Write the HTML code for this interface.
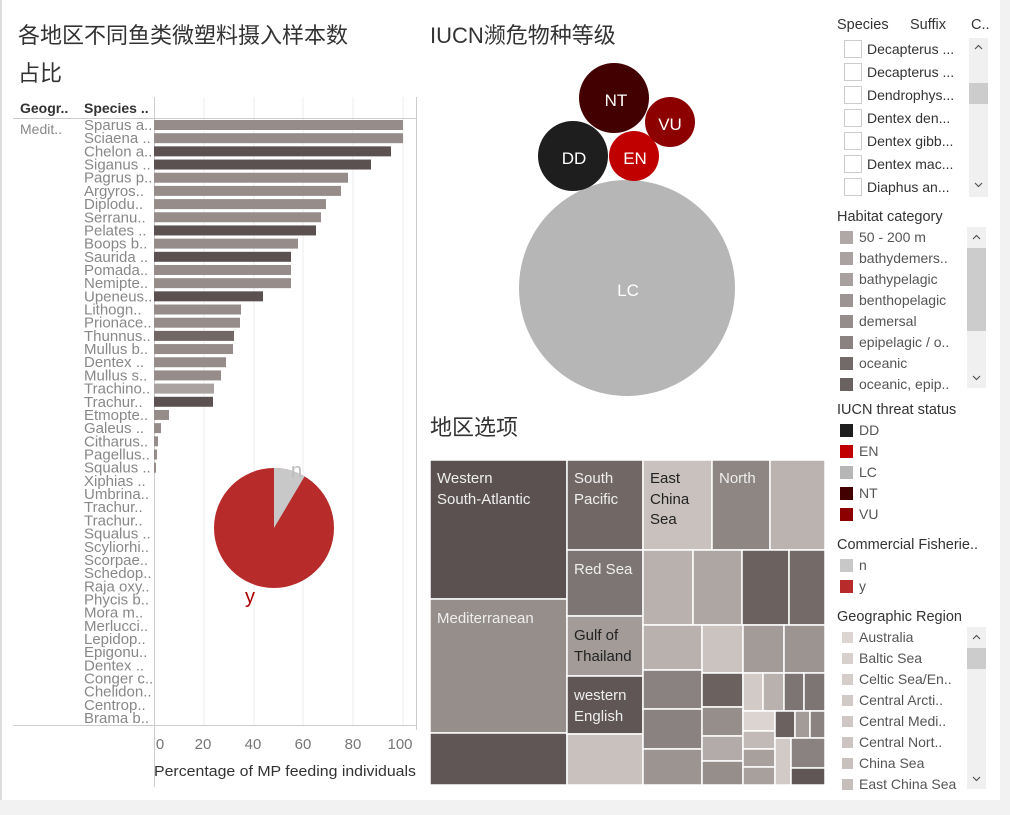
<!DOCTYPE html>
<html><head><meta charset="utf-8"><style>
body{margin:0;width:1010px;height:815px;background:#f2f2f2;overflow:hidden;font-family:"Liberation Sans","Noto Sans CJK SC",sans-serif}
#p{position:absolute;left:0;top:0;width:1000px;height:800px;background:#fff;border-left:2px solid #ddd;box-sizing:border-box}
</style></head><body><div id="p"></div>
<svg width="1010" height="815" style="position:absolute;left:0;top:0" font-family="Liberation Sans, Noto Sans CJK SC, sans-serif">
<g font-family="Liberation Sans, Noto Sans CJK SC, sans-serif" fill="#333" font-size="22">
<text x="18" y="43">各地区不同鱼类微塑料摄入样本数</text>
<text x="18" y="81">占比</text>
<text x="430" y="43">IUCN濒危物种等级</text>
<text x="430" y="435">地区选项</text>
</g>
<g stroke="#eee" stroke-width="1">
<line x1="204" y1="97" x2="204" y2="725"/><line x1="254" y1="97" x2="254" y2="725"/><line x1="303" y1="97" x2="303" y2="725"/><line x1="353" y1="97" x2="353" y2="725"/><line x1="403" y1="97" x2="403" y2="725"/>
</g>
<g stroke="#ccc" stroke-width="1">
<line x1="154.5" y1="97" x2="154.5" y2="787"/>
<line x1="416.5" y1="97" x2="416.5" y2="730"/>
<line x1="13" y1="118.5" x2="416" y2="118.5"/>
<line x1="13" y1="725.5" x2="416" y2="725.5"/>
</g>
<text x="20" y="113" font-size="14" font-weight="bold" fill="#333">Geogr..</text>
<text x="84" y="113" font-size="14" font-weight="bold" fill="#333">Species ..</text>
<text x="20" y="134" font-size="14" fill="#888">Medit..</text>
<g id="bars"></g>
<g font-size="15" fill="#777" text-anchor="middle">
<text x="160" y="749">0</text><text x="203" y="749">20</text><text x="253" y="749">40</text><text x="303" y="749">60</text><text x="353" y="749">80</text><text x="400" y="749">100</text>
</g>
<text x="154" y="776" font-size="15" fill="#333" textLength="262" lengthAdjust="spacingAndGlyphs">Percentage of MP feeding individuals</text>
<circle cx="274" cy="528" r="60" fill="#b82b2b"/>
<path d="M274 528 L274 468 A60 60 0 0 1 304.6 476.4 Z" fill="#c8c8c8"/>
<text x="291" y="477" font-size="20" fill="#bbb">n</text>
<text x="245" y="603" font-size="20" fill="#a00">y</text>
<circle cx="627" cy="288" r="108" fill="#b6b6b6"/>
<circle cx="614" cy="98" r="35" fill="#420000"/>
<circle cx="670" cy="122" r="25" fill="#8c0000"/>
<circle cx="573" cy="156" r="35" fill="#1e1e1e"/>
<circle cx="634" cy="156" r="25" fill="#c00000"/>
<g fill="#fff" font-size="17" text-anchor="middle">
<text x="616" y="106">NT</text><text x="670" y="130">VU</text><text x="574" y="164">DD</text><text x="635" y="164">EN</text><text x="628" y="296">LC</text>
</g>
<g stroke="#fff" stroke-width="1.5">
<rect x="430" y="460" width="137" height="139" fill="#5a5150"/>
<rect x="430" y="599" width="137" height="134" fill="#958e8b"/>
<rect x="430" y="733" width="137" height="52" fill="#5f5655"/>
<rect x="567" y="460" width="76" height="90" fill="#716866"/>
<rect x="567" y="550" width="76" height="66" fill="#7d7573"/>
<rect x="567" y="616" width="76" height="60" fill="#a29b98"/>
<rect x="567" y="676" width="76" height="58" fill="#5f5655"/>
<rect x="567" y="734" width="76" height="51" fill="#c9c1bd"/>
<rect x="643" y="460" width="69" height="90" fill="#c9c1bd"/>
<rect x="712" y="460" width="58" height="90" fill="#8e8683"/>
<rect x="770" y="460" width="55" height="90" fill="#bbb3b0"/>
<rect x="643" y="550" width="50" height="75" fill="#b9b1ae"/>
<rect x="693" y="550" width="49" height="75" fill="#aea6a3"/>
<rect x="742" y="550" width="47" height="75" fill="#6b6260"/>
<rect x="789" y="550" width="36" height="75" fill="#746b69"/>
<rect x="643" y="625" width="59" height="45" fill="#b9b1ae"/>
<rect x="702" y="625" width="41" height="48" fill="#cbc3bf"/>
<rect x="743" y="625" width="41" height="48" fill="#a39b98"/>
<rect x="784" y="625" width="41" height="48" fill="#9c9491"/>
<rect x="643" y="670" width="59" height="39" fill="#8a8280"/>
<rect x="643" y="709" width="59" height="40" fill="#8a8280"/>
<rect x="643" y="749" width="59" height="36" fill="#9c9491"/>
<rect x="702" y="673" width="41" height="34" fill="#6b6260"/>
<rect x="702" y="707" width="41" height="29" fill="#958e8b"/>
<rect x="702" y="736" width="41" height="25" fill="#b3abaa"/>
<rect x="702" y="761" width="41" height="24" fill="#958e8b"/>
<rect x="743" y="673" width="20" height="38" fill="#d2cac6"/>
<rect x="763" y="673" width="21" height="38" fill="#b9b1ae"/>
<rect x="784" y="673" width="20" height="38" fill="#7d7573"/>
<rect x="804" y="673" width="21" height="38" fill="#7d7573"/>
<rect x="743" y="711" width="32" height="20" fill="#dcd4d0"/>
<rect x="743" y="731" width="32" height="18" fill="#c2bab6"/>
<rect x="743" y="749" width="32" height="18" fill="#a8a09d"/>
<rect x="743" y="767" width="32" height="18" fill="#a8a09d"/>
<rect x="775" y="711" width="20" height="27" fill="#6b6260"/>
<rect x="795" y="711" width="15" height="27" fill="#a39b98"/>
<rect x="810" y="711" width="15" height="27" fill="#8a8280"/>
<rect x="775" y="738" width="16" height="47" fill="#d2cac6"/>
<rect x="791" y="738" width="34" height="30" fill="#8a8280"/>
<rect x="791" y="768" width="34" height="17" fill="#5f5655"/>
</g>
<g font-size="15" fill="#eee">
<text x="437" y="483">Western</text><text x="437" y="504">South-Atlantic</text>
<text x="437" y="623">Mediterranean</text>
<text x="574" y="483">South</text><text x="574" y="504">Pacific</text>
<text x="574" y="574">Red Sea</text>
<text x="574" y="700">western</text><text x="574" y="721">English</text>
<text x="719" y="483">North</text>
</g>
<g font-size="15" fill="#222">
<text x="574" y="640">Gulf of</text><text x="574" y="661">Thailand</text>
<text x="650" y="483">East</text><text x="650" y="504">China</text><text x="650" y="524">Sea</text>
</g>
<g font-size="14.5" fill="#333">
<text x="837" y="29">Species</text><text x="910" y="29">Suffix</text><text x="971" y="29">C..</text>
<text x="837" y="221">Habitat category</text>
<text x="837" y="414">IUCN threat status</text>
<text x="837" y="549">Commercial Fisherie..</text>
<text x="837" y="621">Geographic Region</text>
</g>
<rect x="969" y="38" width="19" height="159" fill="#f0f0f0"/><rect x="969" y="83" width="19" height="21" fill="#ccc"/>
<rect x="967" y="227" width="19" height="161" fill="#f0f0f0"/><rect x="967" y="248" width="19" height="83" fill="#ccc"/>
<rect x="967" y="627" width="19" height="162" fill="#f0f0f0"/><rect x="967" y="648" width="19" height="21" fill="#ccc"/>
<g fill="none" stroke="#555" stroke-width="1.2">
<path d="M975 49 l3.5 -3.5 l3.5 3.5"/><path d="M975 183 l3.5 3.5 l3.5 -3.5"/>
<path d="M973 239 l3.5 -3.5 l3.5 3.5"/><path d="M973 376 l3.5 3.5 l3.5 -3.5"/>
<path d="M973 639 l3.5 -3.5 l3.5 3.5"/><path d="M973 777 l3.5 3.5 l3.5 -3.5"/>
</g>
<g id="leg"></g>
</svg>
<script>
var NS="http://www.w3.org/2000/svg";
function el(p,t,a,txt){var e=document.createElementNS(NS,t);for(var k in a)e.setAttribute(k,a[k]);if(txt)e.textContent=txt;p.appendChild(e);return e;}
var names=["Sparus a..","Sciaena ..","Chelon a..","Siganus ..","Pagrus p..","Argyros..","Diplodu..","Serranu..","Pelates ..","Boops b..","Saurida ..","Pomada..","Nemipte..","Upeneus..","Lithogn..","Prionace..","Thunnus..","Mullus b..","Dentex ..","Mullus s..","Trachino..","Trachur..","Etmopte..","Galeus ..","Citharus..","Pagellus..","Squalus ..","Xiphias ..","Umbrina..","Trachur..","Trachur..","Squalus ..","Scyliorhi..","Scorpae..","Schedop..","Raja oxy..","Phycis b..","Mora m..","Merlucci..","Lepidop..","Epigonu..","Dentex ..","Conger c..","Chelidon..","Centrop..","Brama b.."];
var ends=[403,403,391,371,348,341,326,321,316,298,291,291,291,263,241,240,234,233,226,221,214,213,169,161,158,157,156];
var dark={2:1,3:1,8:1,10:1,13:1,21:1};
var g=document.getElementById("bars");
for(var i=0;i<names.length;i++){var y=125+i*13.18;
el(g,"text",{x:84,y:y+5,"font-size":15,fill:"#888"},names[i]);
if(i<ends.length){var c=dark[i]?"#5a5150":(i==16?"#716866":(i==20?"#aaa2a0":"#968d8a"));
el(g,"rect",{x:154,y:y-5,width:ends[i]-154,height:10,fill:c});}}
var L=document.getElementById("leg");
var sp=["Decapterus ...","Decapterus ...","Dendrophys...","Dentex den...","Dentex gibb...","Dentex mac...","Diaphus an..."];
sp.forEach(function(s,i){var y=49+i*23;el(L,"rect",{x:844.5,y:y-8.5,width:17,height:17,fill:"#fff",stroke:"#ccc"});el(L,"text",{x:867,y:y+5,"font-size":14,fill:"#333"},s);});
var hab=["50 - 200 m","bathydemers..","bathypelagic","benthopelagic","demersal","epipelagic / o..","oceanic","oceanic, epip.."];
var hc=["#b0a8a6","#aaa2a0","#a8a09e","#9c9492","#958d8b","#8a8280","#726a68","#6a6260"];
hab.forEach(function(s,i){var y=237+i*21;el(L,"rect",{x:840,y:y-6,width:13,height:13,fill:hc[i]});el(L,"text",{x:859,y:y+5,"font-size":14,fill:"#555"},s);});
var iu=["DD","EN","LC","NT","VU"],ic=["#1e1e1e","#c00000","#b6b6b6","#420000","#8c0000"];
iu.forEach(function(s,i){var y=430+i*21;el(L,"rect",{x:840,y:y-6,width:13,height:13,fill:ic[i]});el(L,"text",{x:859,y:y+5,"font-size":14,fill:"#555"},s);});
[["n","#c8c8c8"],["y","#b82b2b"]].forEach(function(s,i){var y=565+i*21;el(L,"rect",{x:840,y:y-6,width:13,height:13,fill:s[1]});el(L,"text",{x:859,y:y+5,"font-size":14,fill:"#555"},s[0]);});
var gr=["Australia","Baltic Sea","Celtic Sea/En..","Central Arcti..","Central Medi..","Central Nort..","China Sea","East China Sea"];
gr.forEach(function(s,i){var y=637+i*21;el(L,"rect",{x:842,y:y-5,width:11,height:11,fill:["#ddd5d2","#d8d0cd","#d5cdca","#d2cac7","#cfc7c4","#ccc4c1","#c9c1be","#c6beba"][i]});el(L,"text",{x:859,y:y+5,"font-size":14,fill:"#555"},s);});
</script>
</body></html>
